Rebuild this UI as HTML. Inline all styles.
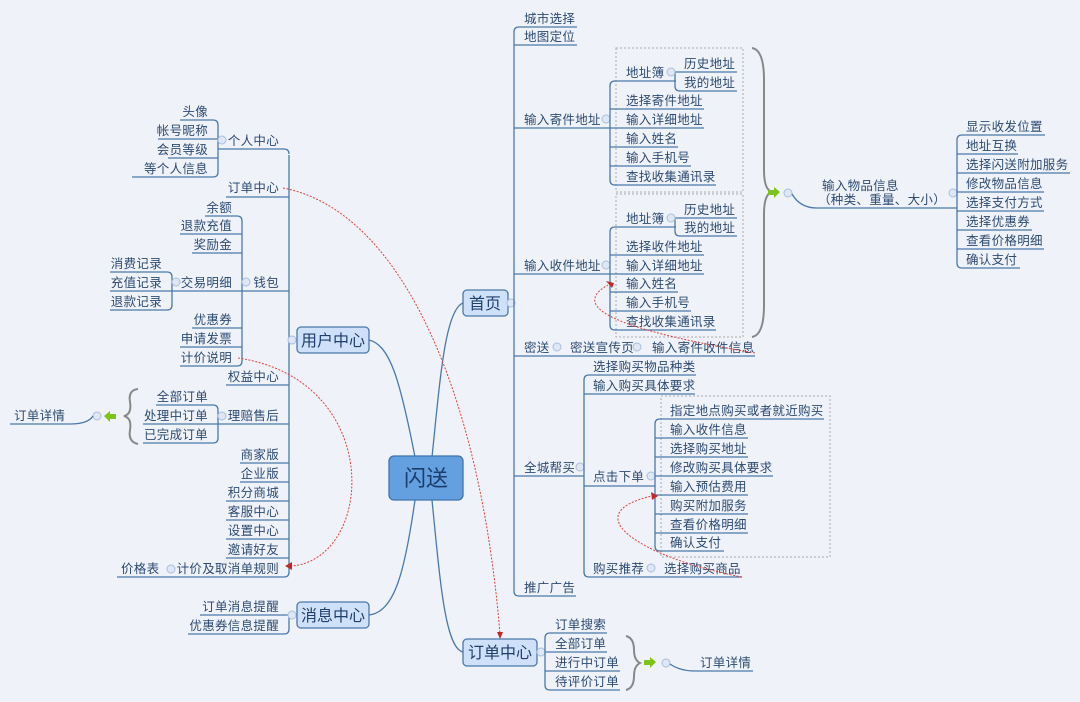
<!DOCTYPE html>
<html><head><meta charset="utf-8"><style>
html,body{margin:0;padding:0;background:#f0f2f9;}
svg{display:block;font-family:"Liberation Sans","Noto Sans CJK SC",sans-serif;}
.t{font-size:12.5px;fill:#2c4a72;letter-spacing:0.3px}
.e{text-anchor:end}
.n{font-size:16px;fill:#1f3e6c;text-anchor:middle}
.l{stroke:#4a78ab;stroke-width:1.3;fill:none}
.c{fill:#dfe7f6;stroke:#a9bedc;stroke-width:1}
.r{stroke:#d9423a;stroke-width:1;fill:none;stroke-dasharray:2,1.5}
.b{fill:none;stroke:#888;stroke-width:2}
.d{fill:none;stroke:#aaa;stroke-width:1;stroke-dasharray:2,2}
</style></head><body>
<svg width="1080" height="702" viewBox="0 0 1080 702">
<rect width="1080" height="702" fill="#f0f2f9"/>
<!-- dashed boxes -->
<rect class="d" x="616" y="48" width="127" height="144"/>
<rect class="d" x="616" y="194" width="127" height="143"/>
<rect class="d" x="661" y="396" width="169" height="161"/>

<!-- center curves -->
<path class="l" d="M415,457 C400,380 390,345 369,340"/>
<path class="l" d="M432,457 C440,380 445,310 463,303"/>
<path class="l" d="M415,500 C405,570 395,612 369,615"/>
<path class="l" d="M432,500 C440,580 445,648 463,652"/>

<!-- LEFT: 用户中心 spine -->
<path class="l" d="M289,155 V572 Q289,577 284,577 H117"/>
<path class="l" d="M218,149 H284 Q289,149 289,154"/>
<path class="l" d="M180,120 H213 Q218,120 218,125 V172 Q218,177 213,177 H132"/>
<path class="l" d="M158,139 H218 M168,158 H218"/>
<text class="t e" x="208" y="116">头像</text>
<text class="t e" x="208" y="135">帐号昵称</text>
<text class="t e" x="208" y="154">会员等级</text>
<text class="t e" x="208" y="173">等个人信息</text>
<circle class="c" cx="222" cy="140" r="4"/>
<text class="t e" x="279" y="145">个人中心</text>
<path class="l" d="M226,197 H289"/>
<text class="t e" x="279" y="192">订单中心</text>
<!-- 钱包 -->
<path class="l" d="M205,216 H237 Q242,216 242,221 V361 Q242,366 237,366 H180"/>
<path class="l" d="M180,234 H242 M192,253 H242 M192,328 H242 M180,347 H242"/>
<path class="l" d="M110,291 H289"/>
<path class="l" d="M110,272 H167 Q172,272 172,277 V305 Q172,310 167,310 H110"/>
<text class="t e" x="232" y="212">余额</text>
<text class="t e" x="232" y="230">退款充值</text>
<text class="t e" x="232" y="249">奖励金</text>
<text class="t e" x="232" y="324">优惠券</text>
<text class="t e" x="232" y="343">申请发票</text>
<text class="t e" x="232" y="362">计价说明</text>
<text class="t e" x="279" y="287">钱包</text>
<circle class="c" cx="246" cy="282" r="4"/>
<text class="t e" x="232" y="287">交易明细</text>
<circle class="c" cx="176" cy="282" r="4"/>
<text class="t e" x="162" y="268">消费记录</text>
<text class="t e" x="162" y="287">充值记录</text>
<text class="t e" x="162" y="306">退款记录</text>
<path class="l" d="M226,385 H289"/>
<text class="t e" x="279" y="381">权益中心</text>
<!-- 理赔售后 -->
<path class="l" d="M143,424 H289"/>
<path class="l" d="M156,405 H213 Q218,405 218,410 V438 Q218,443 213,443 H143"/>
<text class="t e" x="279" y="420">理赔售后</text>
<circle class="c" cx="222" cy="416" r="4"/>
<text class="t e" x="208" y="401">全部订单</text>
<text class="t e" x="208" y="420">处理中订单</text>
<text class="t e" x="208" y="439">已完成订单</text>
<path class="b" d="M138,389 Q128,390 130,402 Q132,414 124,416 Q132,418 130,430 Q128,442 138,444" stroke-width="1.5"/>
<polygon points="104,416 110,411 110,414 116,414 116,419 110,419 110,422" fill="#7cc41a"/>
<circle class="c" cx="97" cy="416" r="4"/>
<path class="l" d="M10,424 H70 Q88,424 93,416"/>
<text class="t" x="14" y="420">订单详情</text>
<!-- lower items -->
<path class="l" d="M240,463 H289 M240,482 H289 M226,501 H289 M226,520 H289 M226,539 H289 M226,558 H289"/>
<text class="t e" x="279" y="459">商家版</text>
<text class="t e" x="279" y="478">企业版</text>
<text class="t e" x="279" y="497">积分商城</text>
<text class="t e" x="279" y="516">客服中心</text>
<text class="t e" x="279" y="535">设置中心</text>
<text class="t e" x="279" y="554">邀请好友</text>
<text class="t e" x="279" y="573">计价及取消单规则</text>
<circle class="c" cx="171" cy="569" r="4"/>
<text class="t" x="121" y="573">价格表</text>
<!-- 用户中心 node -->
<circle class="c" cx="292" cy="340" r="4"/>
<rect x="297" y="327" width="72" height="26" rx="4" fill="#cfe0fa" stroke="#4a78ab" stroke-width="1.3"/>
<text class="n" x="333" y="346">用户中心</text>
<!-- 消息中心 -->
<path class="l" d="M200,615 H289 V629 Q289,634 284,634 H188"/>
<text class="t e" x="279" y="611">订单消息提醒</text>
<text class="t e" x="279" y="630">优惠券信息提醒</text>
<circle class="c" cx="292" cy="615" r="4"/>
<rect x="297" y="602" width="72" height="26" rx="4" fill="#cfe0fa" stroke="#4a78ab" stroke-width="1.3"/>
<text class="n" x="333" y="621">消息中心</text>

<!-- center -->
<rect x="389" y="456" width="74" height="44" rx="5" fill="#64a0e0" stroke="#3f74b0" stroke-width="1.3"/>
<text x="426" y="486" font-size="22" fill="#1b3d6c" text-anchor="middle">闪送</text>

<!-- 首页 -->
<rect x="463" y="290" width="45" height="26" rx="4" fill="#cfe0fa" stroke="#4a78ab" stroke-width="1.3"/>
<text class="n" x="485" y="309">首页</text>
<circle class="c" cx="511" cy="303" r="4"/>
<path class="l" d="M577,27 H519 Q514,27 514,32 V591 Q514,596 519,596 H576"/>
<path class="l" d="M514,45 H577 M514,128 H610 M514,274 H610 M514,356 H755 M514,476 H584"/>
<text class="t" x="524" y="23">城市选择</text>
<text class="t" x="524" y="41">地图定位</text>
<text class="t" x="524" y="124">输入寄件地址</text>
<circle class="c" cx="606" cy="119" r="4"/>
<text class="t" x="524" y="270">输入收件地址</text>
<circle class="c" cx="606" cy="265" r="4"/>
<text class="t" x="524" y="352">密送</text>
<circle class="c" cx="557" cy="347" r="4"/>
<text class="t" x="570" y="352">密送宣传页</text>
<circle class="c" cx="637" cy="347" r="4"/>
<text class="t" x="652" y="352">输入寄件收件信息</text>
<text class="t" x="524" y="472">全城帮买</text>
<circle class="c" cx="580" cy="467" r="4"/>
<text class="t" x="524" y="592">推广广告</text>
<!-- 寄件 -->
<path class="l" d="M676,81 H615 Q610,81 610,86 V180 Q610,185 615,185 H716"/>
<path class="l" d="M610,109 H704 M610,128 H704 M610,147 H678 M610,166 H691"/>
<path class="l" d="M737,72 H675 V86 Q675,91 680,91 H737"/>
<text class="t" x="626" y="77">地址簿</text>
<circle class="c" cx="671" cy="72" r="4"/>
<text class="t" x="684" y="68">历史地址</text>
<text class="t" x="684" y="87">我的地址</text>
<text class="t" x="626" y="105">选择寄件地址</text>
<text class="t" x="626" y="124">输入详细地址</text>
<text class="t" x="626" y="143">输入姓名</text>
<text class="t" x="626" y="162">输入手机号</text>
<text class="t" x="626" y="181">查找收集通讯录</text>
<!-- 收件 -->
<path class="l" d="M676,227 H615 Q610,227 610,232 V325 Q610,330 615,330 H716"/>
<path class="l" d="M610,255 H704 M610,274 H704 M610,292 H678 M610,311 H691"/>
<path class="l" d="M737,218 H675 V231 Q675,236 680,236 H737"/>
<text class="t" x="626" y="223">地址簿</text>
<circle class="c" cx="671" cy="218" r="4"/>
<text class="t" x="684" y="214">历史地址</text>
<text class="t" x="684" y="232">我的地址</text>
<text class="t" x="626" y="251">选择收件地址</text>
<text class="t" x="626" y="270">输入详细地址</text>
<text class="t" x="626" y="288">输入姓名</text>
<text class="t" x="626" y="307">输入手机号</text>
<text class="t" x="626" y="326">查找收集通讯录</text>
<!-- big brace -->
<path class="b" d="M752,48 Q764,50 764,80 V170 Q764,190 772,192 Q764,194 764,214 V305 Q764,335 752,337" stroke-width="1.6"/>
<polygon points="780,192 774,187 774,190 768,190 768,195 774,195 774,198" fill="#7cc41a"/>
<circle class="c" cx="788" cy="193" r="4"/>
<path class="l" d="M792,194 Q800,208 817,208 H957"/>
<text class="t" x="822" y="190">输入物品信息</text>
<text class="t" x="818" y="204">（种类、重量、大小）</text>
<circle class="c" cx="953" cy="193" r="4"/>
<path class="l" d="M1045,135 H962 Q957,135 957,140 V263 Q957,268 962,268 H1020"/>
<path class="l" d="M957,154 H1018 M957,173 H1070 M957,192 H1044 M957,211 H1044 M957,230 H1032 M957,249 H1044"/>
<text class="t" x="966" y="131">显示收发位置</text>
<text class="t" x="966" y="150">地址互换</text>
<text class="t" x="966" y="169">选择闪送附加服务</text>
<text class="t" x="966" y="188">修改物品信息</text>
<text class="t" x="966" y="207">选择支付方式</text>
<text class="t" x="966" y="226">选择优惠券</text>
<text class="t" x="966" y="245">查看价格明细</text>
<text class="t" x="966" y="264">确认支付</text>
<!-- 全城帮买 -->
<path class="l" d="M696,375 H589 Q584,375 584,380 V572 Q584,577 589,577 H742"/>
<path class="l" d="M584,394 H695 M584,486 H655"/>
<text class="t" x="593" y="371">选择购买物品种类</text>
<text class="t" x="593" y="390">输入购买具体要求</text>
<text class="t" x="593" y="481">点击下单</text>
<circle class="c" cx="651" cy="476" r="4"/>
<text class="t" x="593" y="573">购买推荐</text>
<circle class="c" cx="651" cy="568" r="4"/>
<text class="t" x="664" y="573">选择购买商品</text>
<path class="l" d="M824,419 H660 Q655,419 655,424 V546 Q655,551 660,551 H724"/>
<path class="l" d="M655,438 H748 M655,457 H748 M655,476 H773 M655,495 H748 M655,514 H748 M655,533 H748"/>
<text class="t" x="670" y="415">指定地点购买或者就近购买</text>
<text class="t" x="670" y="434">输入收件信息</text>
<text class="t" x="670" y="453">选择购买地址</text>
<text class="t" x="670" y="472">修改购买具体要求</text>
<text class="t" x="670" y="491">输入预估费用</text>
<text class="t" x="670" y="510">购买附加服务</text>
<text class="t" x="670" y="529">查看价格明细</text>
<text class="t" x="670" y="547">确认支付</text>

<!-- 订单中心 -->
<rect x="463" y="639" width="74" height="27" rx="4" fill="#cfe0fa" stroke="#4a78ab" stroke-width="1.3"/>
<text class="n" x="500" y="658">订单中心</text>
<circle class="c" cx="541" cy="652" r="4"/>
<path class="l" d="M607,633 H550 Q545,633 545,638 V685 Q545,690 550,690 H620"/>
<path class="l" d="M545,652 H607 M545,671 H620"/>
<text class="t" x="555" y="629">订单搜索</text>
<text class="t" x="555" y="648">全部订单</text>
<text class="t" x="555" y="667">进行中订单</text>
<text class="t" x="555" y="686">待评价订单</text>
<path class="b" d="M626,636 Q634,638 634,650 Q634,660 640,663 Q634,666 634,676 Q634,688 626,690" stroke-width="1.5"/>
<polygon points="656,662 650,657 650,660 644,660 644,665 650,665 650,668" fill="#7cc41a"/>
<circle class="c" cx="666" cy="663" r="4"/>
<path class="l" d="M670,664 Q680,671 695,671 H753"/>
<text class="t" x="700" y="667">订单详情</text>

<!-- red dashed relationships -->
<path class="r" d="M283,188 C400,210 480,390 500,634"/>
<polygon points="497,632 503,632 500,639" fill="#c0282a"/>
<path class="r" d="M238,358 C385,380 375,560 291,566"/>
<polygon points="292,562 292,570 285,566" fill="#c0282a"/>
<path class="r" d="M755,353 C650,335 560,312 608,285"/>
<polygon points="606,281 612,288 614,283" fill="#c0282a"/>
<path class="r" d="M742,577 C650,560 570,515 652,496"/>
<polygon points="651,492 652,500 658,496" fill="#c0282a"/>
</svg>
</body></html>
